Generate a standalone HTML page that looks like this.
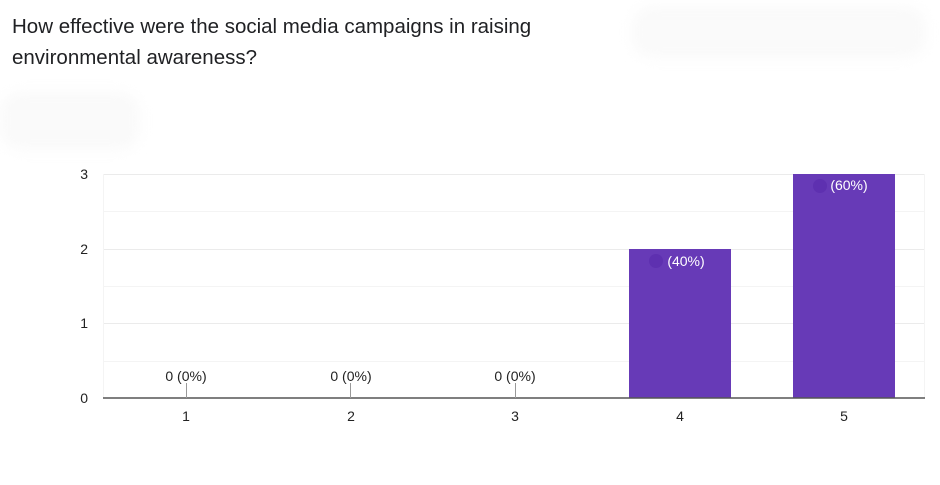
<!DOCTYPE html>
<html><head><meta charset="utf-8"><style>
body{margin:0;background:#fff;width:940px;height:485px;overflow:hidden;position:relative;font-family:"Liberation Sans",Arial,sans-serif}
.t{position:absolute;left:12px;top:11px;font-size:20.5px;line-height:31px;color:#202124}
.blob{position:absolute;background:#fafafa;border-radius:20px;filter:blur(6px)}
</style></head><body>
<div class="t">How effective were the social media campaigns in raising<br>environmental awareness?</div>
<div class="blob" style="left:632px;top:6px;width:294px;height:52px"></div>
<div class="blob" style="left:0;top:92px;width:140px;height:58px"></div>
<svg width="940" height="485" style="position:absolute;left:0;top:0" font-family="Liberation Sans,Arial,sans-serif" font-size="14">
<g stroke="#ebebeb" stroke-width="1">
<line x1="103" y1="174.5" x2="925" y2="174.5"/>
<line x1="103" y1="249.5" x2="925" y2="249.5"/>
<line x1="103" y1="323.5" x2="925" y2="323.5"/>
</g>
<g stroke="#f4f4f4" stroke-width="1">
<line x1="103" y1="211.5" x2="925" y2="211.5"/>
<line x1="103" y1="286.5" x2="925" y2="286.5"/>
<line x1="103" y1="361.5" x2="925" y2="361.5"/>
<line x1="103.5" y1="174" x2="103.5" y2="398"/>
<line x1="924.5" y1="174" x2="924.5" y2="398"/>
</g>
<g fill="#222" text-anchor="end">
<text x="88" y="179">3</text><text x="88" y="254">2</text><text x="88" y="328">1</text><text x="88" y="403">0</text>
</g>
<rect x="629" y="249" width="102" height="149" fill="#673ab7"/>
<rect x="793" y="174" width="102" height="224" fill="#673ab7"/>
<circle cx="656" cy="261" r="7" fill="#5e30b0"/>
<circle cx="820" cy="186" r="7" fill="#5e30b0"/>
<g fill="#fff" text-anchor="middle"><text x="686" y="266">(40%)</text><text x="849" y="190">(60%)</text></g>
<line x1="103" y1="398" x2="925" y2="398" stroke="#555" stroke-width="1.5"/>
<g stroke="#999" stroke-width="1"><line x1="186.5" y1="383" x2="186.5" y2="398"/><line x1="350.5" y1="383" x2="350.5" y2="398"/><line x1="515.5" y1="383" x2="515.5" y2="398"/></g>
<g fill="#222" text-anchor="middle">
<text x="186" y="381">0 (0%)</text><text x="351" y="381">0 (0%)</text><text x="515" y="381">0 (0%)</text>
<text x="186" y="421">1</text><text x="351" y="421">2</text><text x="515" y="421">3</text><text x="680" y="421">4</text><text x="844" y="421">5</text>
</g>
</svg>
</body></html>
